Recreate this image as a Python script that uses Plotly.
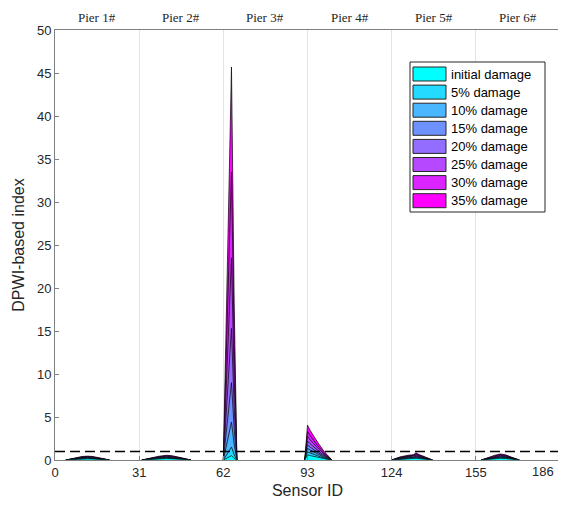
import plotly.graph_objects as go

series_names = ["initial damage", "5% damage", "10% damage", "15% damage",
                "20% damage", "25% damage", "30% damage", "35% damage"]
pier_labels = ["Pier 1#", "Pier 2#", "Pier 3#", "Pier 4#", "Pier 5#", "Pier 6#"]
x_ticks = [0, 31, 62, 93, 124, 155, 186]
y_ticks = [0, 5, 10, 15, 20, 25, 30, 35, 40, 45, 50]
threshold = 1.0

# Pier 1 region
pier1_x = [4, 7, 10, 12, 14, 17, 20]
pier1_y = [
    [0, 0.08, 0.13, 0.14, 0.12, 0.06, 0],
    [0, 0.10, 0.16, 0.18, 0.15, 0.08, 0],
    [0, 0.12, 0.20, 0.22, 0.19, 0.10, 0],
    [0, 0.14, 0.24, 0.26, 0.23, 0.12, 0],
    [0, 0.17, 0.28, 0.31, 0.27, 0.14, 0],
    [0, 0.20, 0.32, 0.35, 0.31, 0.16, 0],
    [0, 0.22, 0.36, 0.40, 0.35, 0.18, 0],
    [0, 0.25, 0.41, 0.45, 0.40, 0.21, 0],
]
# Pier 2 region
pier2_x = [32, 35, 38, 41, 43, 46, 50]
pier2_y = [
    [0, 0.08, 0.13, 0.17, 0.15, 0.09, 0],
    [0, 0.10, 0.16, 0.21, 0.19, 0.11, 0],
    [0, 0.12, 0.20, 0.26, 0.24, 0.14, 0],
    [0, 0.14, 0.24, 0.31, 0.28, 0.17, 0],
    [0, 0.17, 0.28, 0.37, 0.33, 0.20, 0],
    [0, 0.20, 0.33, 0.43, 0.39, 0.23, 0],
    [0, 0.22, 0.37, 0.49, 0.45, 0.27, 0],
    [0, 0.25, 0.42, 0.55, 0.50, 0.30, 0],
]
# Pier 3 region (main damage)
pier3_x = [62, 63, 64, 65, 66, 67]
pier3_y = [
    [0, 0.17, 0.31, 0.5, 0.2, 0],
    [0, 0.5, 0.9, 1.5, 0.6, 0],
    [0, 1.5, 2.7, 4.4, 1.8, 0],
    [0, 3.1, 5.5, 9.0, 3.6, 0],
    [0, 5.3, 9.4, 15.3, 6.1, 0],
    [0, 8.1, 14.4, 23.5, 9.4, 0],
    [0, 11.6, 20.5, 33.5, 13.4, 0],
    [0, 15.8, 28.0, 45.7, 18.3, 0],
]
# Pier 4 region
pier4_x = [92, 93, 94, 95, 96, 97, 98, 99, 100, 101, 102]
pier4_y = [
    [0, 0.60, 0.51, 0.43, 0.36, 0.29, 0.22, 0.16, 0.10, 0.04, 0],
    [0, 0.95, 0.81, 0.67, 0.57, 0.46, 0.34, 0.25, 0.16, 0.07, 0],
    [0, 1.35, 1.15, 0.96, 0.81, 0.65, 0.49, 0.35, 0.23, 0.09, 0],
    [0, 1.75, 1.49, 1.24, 1.05, 0.84, 0.63, 0.46, 0.30, 0.12, 0],
    [0, 2.20, 1.87, 1.56, 1.32, 1.06, 0.79, 0.57, 0.37, 0.15, 0],
    [0, 2.75, 2.34, 1.95, 1.65, 1.32, 0.99, 0.72, 0.47, 0.19, 0],
    [0, 3.30, 2.81, 2.34, 1.98, 1.58, 1.19, 0.86, 0.56, 0.23, 0],
    [0, 4.05, 3.44, 2.88, 2.43, 1.94, 1.46, 1.05, 0.69, 0.28, 0],
]
# Pier 5 region
pier5_x = [124, 127, 130, 132, 133, 134, 136, 139]
pier5_y = [
    [0, 0.10, 0.16, 0.18, 0.20, 0.18, 0.12, 0],
    [0, 0.13, 0.20, 0.23, 0.27, 0.23, 0.15, 0],
    [0, 0.16, 0.25, 0.28, 0.35, 0.29, 0.19, 0],
    [0, 0.19, 0.30, 0.34, 0.43, 0.35, 0.23, 0],
    [0, 0.23, 0.36, 0.41, 0.52, 0.42, 0.27, 0],
    [0, 0.27, 0.42, 0.48, 0.62, 0.50, 0.31, 0],
    [0, 0.31, 0.48, 0.55, 0.73, 0.57, 0.35, 0],
    [0, 0.35, 0.55, 0.62, 0.85, 0.65, 0.40, 0],
]
# Pier 6 region
pier6_x = [157, 160, 162, 164, 166, 168, 171]
pier6_y = [
    [0, 0.10, 0.16, 0.20, 0.17, 0.10, 0],
    [0, 0.13, 0.20, 0.25, 0.22, 0.13, 0],
    [0, 0.16, 0.25, 0.31, 0.27, 0.16, 0],
    [0, 0.19, 0.30, 0.38, 0.33, 0.19, 0],
    [0, 0.23, 0.36, 0.46, 0.40, 0.23, 0],
    [0, 0.27, 0.42, 0.54, 0.47, 0.27, 0],
    [0, 0.31, 0.48, 0.62, 0.53, 0.31, 0],
    [0, 0.35, 0.55, 0.70, 0.60, 0.35, 0],
]

regions_x = [pier1_x, pier2_x, pier3_x, pier4_x, pier5_x, pier6_x]
regions_y = [pier1_y, pier2_y, pier3_y, pier4_y, pier5_y, pier6_y]

n = len(series_names)
colors = []
for i in range(n):
    r = i / (n - 1)
    colors.append("rgb(%d,%d,255)" % (round(255 * r), round(255 * (1 - r))))

fig = go.Figure()
# draw largest series first so smaller ones are on top
for i in reversed(range(n)):
    xs, ys = [], []
    for rx, ry in zip(regions_x, regions_y):
        xs += rx + [None]
        ys += ry[i] + [None]
    fig.add_trace(go.Scatter(
        x=xs, y=ys, mode="lines", fill="tozeroy", connectgaps=False,
        fillcolor=colors[i], line=dict(color="black", width=0.7),
        name=series_names[i], showlegend=False, hoverinfo="skip"))

# threshold dashed line
fig.add_trace(go.Scatter(x=[x_ticks[0], x_ticks[-1]], y=[threshold, threshold],
                         mode="lines", line=dict(color="black", width=1.5, dash="10px,5px"),
                         showlegend=False, hoverinfo="skip"))

shapes = []
annotations = []

# pier labels on top
for k, lab in enumerate(pier_labels):
    annotations.append(dict(x=(x_ticks[k] + x_ticks[k + 1]) / 2, y=1, xref="x", yref="paper",
                            yanchor="bottom", yshift=3, showarrow=False, text=lab,
                            font=dict(family="Liberation Serif", size=13, color="#262626")))

# page geometry (the page body adds an 8px offset)
OFF = 8
W, H = 566, 506
L, R, T, B = 55, 560, 30, 460
def px(v):
    return (v - L) / (R - L)
def py(v):
    return (B - v) / (B - T)

# last x tick label, kept inside the visible page edge
tick_text = [str(v) for v in x_ticks]
tick_text[-1] = ""
annotations.append(dict(x=x_ticks[-1], y=0, xref="x", yref="paper", xanchor="right",
                        yanchor="top", xshift=-4, yshift=-2, showarrow=False,
                        text=str(x_ticks[-1]), font=dict(family="Liberation Sans", size=13, color="#262626")))

shapes.append(dict(type="rect", xref="paper", yref="paper",
                   x0=px(410), x1=px(545), y0=py(212), y1=py(62),
                   line=dict(color="#262626", width=1), fillcolor="white", layer="above"))
for i in range(n):
    cy = 74 + 18.1 * i
    shapes.append(dict(type="rect", xref="paper", yref="paper",
                       x0=px(413), x1=px(446), y0=py(cy + 7), y1=py(cy - 7),
                       line=dict(color="#262626", width=1), fillcolor=colors[i], layer="above"))
    annotations.append(dict(x=px(449), y=py(cy), xref="paper", yref="paper",
                            xanchor="left", yanchor="middle", showarrow=False,
                            text=series_names[i],
                            font=dict(family="Liberation Sans", size=13, color="black")))

fig.update_layout(
    width=W - OFF, height=H - OFF,
    margin=dict(l=L - OFF, r=W - R, t=T - OFF, b=H - B, autoexpand=False),
    plot_bgcolor="white", paper_bgcolor="white",
    shapes=shapes, annotations=annotations,
    showlegend=False,
    font=dict(family="Liberation Sans", size=13, color="#262626"),
)
fig.update_xaxes(range=[x_ticks[0], x_ticks[-1]], tickvals=x_ticks, ticktext=tick_text,
                 showgrid=True, gridcolor="#e3e3e3", gridwidth=1, automargin=False,
                 showline=True, linecolor="#808080", linewidth=1, mirror=True,
                 ticks="inside", ticklen=4, tickcolor="#808080", zeroline=False,
                 title=dict(text="Sensor ID", font=dict(size=16, color="#262626"), standoff=6),
                 tickfont=dict(size=13, color="#262626"))
fig.update_yaxes(range=[y_ticks[0], y_ticks[-1]], tickvals=y_ticks, automargin=False,
                 showgrid=False, showline=True, linecolor="#808080", linewidth=1, mirror=True,
                 ticks="inside", ticklen=4, tickcolor="#808080", zeroline=False,
                 title=dict(text="DPWI-based index", font=dict(size=16, color="#262626"), standoff=8),
                 tickfont=dict(size=13, color="#262626"))

fig.write_html("out.html")
